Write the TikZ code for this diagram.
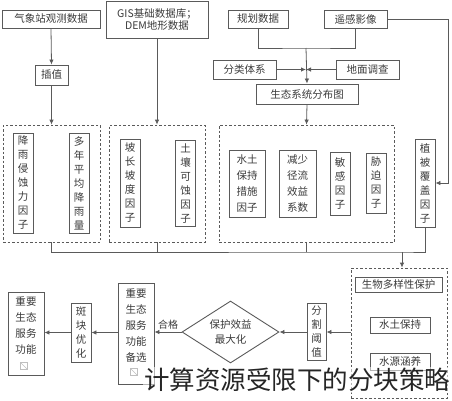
\documentclass[tikz,border=0pt]{standalone}
\usepackage{fontspec}
\newfontfamily\cjk{Noto Sans CJK SC}
\usetikzlibrary{shapes.geometric,arrows.meta}
\definecolor{linec}{HTML}{5A5A5A}
\definecolor{txtc}{HTML}{3A3A3A}
\tikzset{
  box/.style={draw=linec,line width=0.9pt,inner sep=0pt,text=txtc,font=\cjk\fontsize{10.5}{12}\selectfont},
  vbox/.style={box,align=center,minimum width=20pt,font=\cjk\fontsize{10.5}{14}\selectfont},
  rbox/.style={box,align=center,font=\cjk\fontsize{10.5}{16}\selectfont},
  grp/.style={draw=linec,line width=0.8pt,dash pattern=on 2.5pt off 2pt,inner sep=0pt},
  link/.style={draw=linec,line width=0.8pt},
  arr/.style={link,-{Latex[length=5pt,width=4.5pt]}},
  icon/.style={draw=gray!50,line width=0.5pt,minimum size=7pt,inner sep=0pt},
}
\begin{document}
\begin{tikzpicture}[x=1pt,y=-1pt]
    \useasboundingbox (0,0) rectangle (452,400);
    % input data
    \node[box,minimum width=98pt,minimum height=18pt] (qx) at (51,19) {气象站观测数据};
    \node[box,align=center,minimum width=102pt,minimum height=37pt] (gis) at (157,19.5) {GIS基础数据库；\\DEM地形数据};
    \node[box,minimum width=60pt,minimum height=18pt] (gh) at (258,19) {规划数据};
    \node[box,minimum width=63pt,minimum height=18pt] (yg) at (355.5,19) {遥感影像};
    \node[box,minimum width=33pt,minimum height=20pt] (cz) at (51.5,75) {插值};
    \node[box,minimum width=63pt,minimum height=19pt] (fl) at (244.5,69.5) {分类体系};
    \node[box,minimum width=63pt,minimum height=19pt] (dm) at (367.5,69.5) {地面调查};
    \node[box,minimum width=102pt,minimum height=20pt] (stf) at (307,94) {生态系统分布图};
    \coordinate (top) at (306,48);
    \coordinate (mid) at (306,69.5);
    \coordinate (rc) at (448,19);
    \draw[link] (gh.south) |- (top) -| (yg.south);
    \draw[arr] (top) -- (stf.north);
    \draw[arr] (fl.east) -- (mid);
    \draw[arr] (dm.west) -- (mid);
    \draw[arr] (qx.south) -- (cz.north);

    % factor groups
    \node[grp,minimum width=97pt,minimum height=117pt] (g1) at (51.5,183.5) {};
    \node[grp,minimum width=96pt,minimum height=117pt] (g2) at (157,183.5) {};
    \node[grp,minimum width=175pt,minimum height=117pt] (g3) at (306.5,183.5) {};
    \node[vbox,minimum height=100pt] (jy) at (23,183) {降\\雨\\侵\\蚀\\力\\因\\子};
    \node[vbox,minimum height=100pt] (pj) at (79,183) {多\\年\\平\\均\\降\\雨\\量};
    \node[vbox,minimum height=88pt] (pc) at (130,183) {坡\\长\\坡\\度\\因\\子};
    \node[vbox,minimum height=86pt] (tr) at (185.5,183.5) {土\\壤\\可\\蚀\\因\\子};
    \node[rbox,minimum width=36pt,minimum height=67pt] (cs) at (247,183.5) {水土\\保持\\措施\\因子};
    \node[rbox,minimum width=37pt,minimum height=67pt] (js) at (297.5,183.5) {减少\\径流\\效益\\系数};
    \node[vbox,minimum height=63pt] (mg) at (340,183.5) {敏\\感\\因\\子};
    \node[vbox,minimum height=60pt] (xp) at (376,183) {胁\\迫\\因\\子};
    \node[vbox,minimum height=88pt] (zb) at (425,183) {植\\被\\覆\\盖\\因\\子};
    \draw[arr] (cz.south) -- (g1.north);
    \draw[arr] (gis.south) -- (g2.north);
    \draw[arr] (stf.south) -- (g3.north);
    \draw[arr] (yg.east) -- (rc) |- (zb.east);

    % merge
    \coordinate (bus) at (402,252);
    \draw[link] (g1.south) |- (bus) -| (zb.south);
    \draw[link] (g2.south) -- (g2.south |- bus);
    \draw[link] (g3.south) -- (g3.south |- bus);
    \node[grp,minimum width=96pt,minimum height=130pt] (g4) at (399,333) {};
    \draw[arr] (bus) -- (bus |- g4.north);
    \node[box,minimum width=87pt,minimum height=15pt] (sw) at (398.5,284.5) {生物多样性保护};
    \node[box,minimum width=60pt,minimum height=16pt] (st) at (400,325) {水土保持};
    \node[box,minimum width=60pt,minimum height=17pt] (sy) at (400,361.5) {水源涵养};

    % optimisation
    \node[vbox,minimum width=19pt,minimum height=57pt] (fg) at (316.5,332) {分\\割\\阈\\值};
    \node[draw=linec,line width=0.9pt,diamond,aspect=1.55,minimum width=97pt,minimum height=62pt,inner sep=0pt,
          align=center,text=txtc,font=\cjk\fontsize{10.5}{15}\selectfont] (dia) at (230.5,332) {保护效益\\最大化};
    \node[box,minimum width=36pt,minimum height=101pt] (bx) at (136,333.5) {};
    \node[align=center,inner sep=0pt,text=txtc,font=\cjk\fontsize{10.5}{16}\selectfont] (bxt) at (136,325.5) {重要\\生态\\服务\\功能\\备选};
    \node[icon] (ic1) at (134,372) {};
    \node[vbox,minimum width=20pt,minimum height=59pt] (bk) at (81,332.5) {斑\\块\\优\\化};
    \node[box,minimum width=36pt,minimum height=83pt] (zy) at (26,333.5) {};
    \node[align=center,inner sep=0pt,text=txtc,font=\cjk\fontsize{10.5}{16}\selectfont] (zyt) at (26,326) {重要\\生态\\服务\\功能};
    \node[icon] (ic2) at (24,366) {};
    \draw[gray!50,line width=0.5pt] (ic1.north west) -- (ic1.south east) (ic2.north west) -- (ic2.south east);
    \draw[arr] (g4.west |- fg.east) -- (fg.east);
    \draw[arr] (fg.west) -- (dia.east);
    \draw[arr] (dia.west) -- node[above,inner sep=2pt,text=txtc,font=\cjk\fontsize{10}{12}\selectfont] (hg) {合格} (bx.east |- dia.west);
    \draw[arr] (bx.west |- bk.east) -- (bk.east);
    \draw[arr] (bk.west) -- (zy.east |- bk.west);

    \node[fill=white,fill opacity=0.55,text opacity=1,inner sep=1pt,text=black!85,
          font=\cjk\fontsize{25.5}{27}\selectfont] (cap) at (297,380) {计算资源受限下的分块策略};
\end{tikzpicture}
\end{document}
